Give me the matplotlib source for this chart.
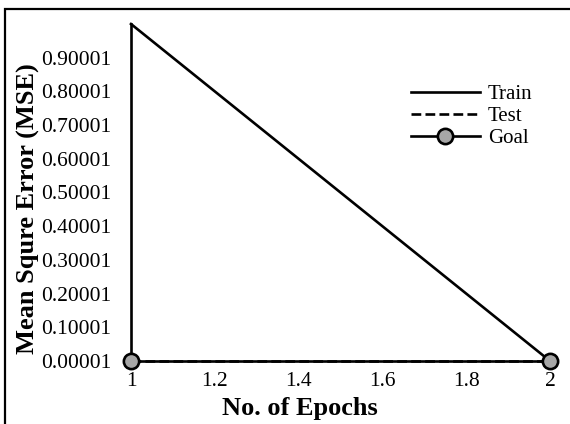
"""Recreate the MSE-vs-epochs training curve figure."""

import matplotlib

matplotlib.use("Agg")
import matplotlib.pyplot as plt
from matplotlib.patches import Rectangle

epochs = [1, 2]
train_mse = [1.0, 0.00001]
test_mse = [0.00001, 0.00001]
goal_mse = [0.00001, 0.00001]

x_ticks = [1, 1.2, 1.4, 1.6, 1.8, 2]
x_tick_labels = ["1", "1.2", "1.4", "1.6", "1.8", "2"]
y_ticks = [0.00001, 0.10001, 0.20001, 0.30001, 0.40001, 0.50001,
           0.60001, 0.70001, 0.80001, 0.90001]
y_tick_labels = [f"{v:.5f}" for v in y_ticks]

plt.rcParams["font.family"] = ["Liberation Serif", "DejaVu Serif"]

LW = 1.9

fig = plt.figure(figsize=(5.7, 4.24), dpi=100)
ax = fig.add_axes([131 / 570, 63 / 424, 419 / 570, 337 / 424])

ax.plot(epochs, train_mse, color="black", linewidth=LW, label="Train",
        clip_on=False)
ax.plot(epochs, test_mse, color="black", linewidth=LW, linestyle="--",
        label="Test", clip_on=False)
ax.plot(epochs, goal_mse, color="black", linewidth=LW, marker="o",
        markersize=11, markerfacecolor="#a6a6a6", markeredgecolor="black",
        markeredgewidth=LW, label="Goal", clip_on=False, zorder=3)

ax.set_xlim(1, 2)
ax.set_ylim(0.00001, 1.0)
ax.set_xticks(x_ticks, x_tick_labels)
ax.set_yticks(y_ticks, y_tick_labels)
ax.tick_params(axis="both", length=0, labelsize=15.5)
ax.tick_params(axis="x", pad=8)
ax.tick_params(axis="y", pad=14)

for side in ("top", "right", "bottom"):
    ax.spines[side].set_visible(False)
ax.spines["left"].set_linewidth(LW)

ax.set_xlabel("No. of Epochs", fontsize=19, fontweight="bold")
ax.set_ylabel("Mean Squre Error (MSE)", fontsize=19, fontweight="bold")
ax.xaxis.set_label_coords(0.402, -0.107)
ax.yaxis.set_label_coords(-0.218, 0.452)

ax.legend(loc="upper left", bbox_to_anchor=(0.668, 0.82), frameon=False,
          fontsize=15, handlelength=3.3, handletextpad=0.4, borderpad=0,
          borderaxespad=0, labelspacing=0.12)

# figure outline (right and bottom edges fall outside the canvas)
fig.patches.append(Rectangle((5 / 570, -0.1), 1.2, 1.1 - 9 / 424,
                             transform=fig.transFigure, fill=False,
                             edgecolor="black", linewidth=1.6))

fig.savefig("out.png", dpi=100)
